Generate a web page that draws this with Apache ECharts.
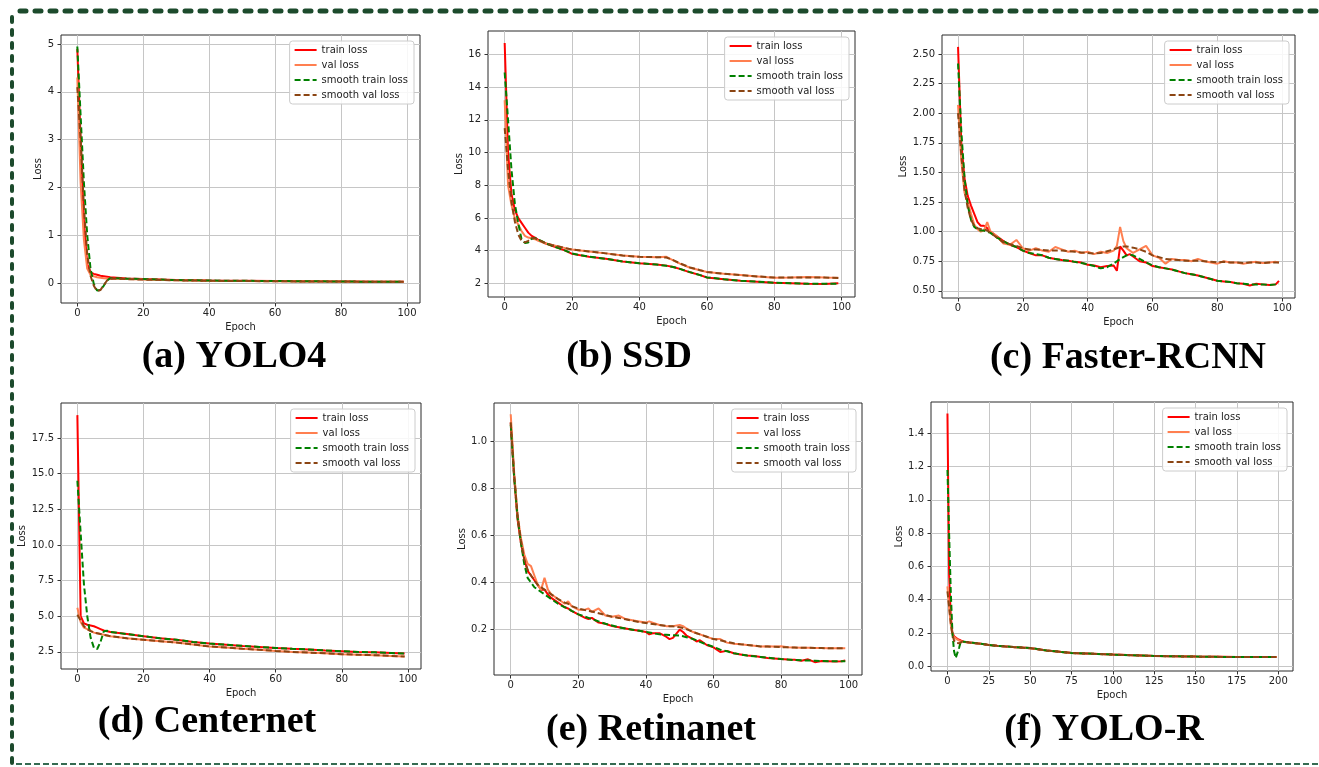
<!DOCTYPE html>
<html>
<head>
<meta charset="utf-8">
<script src="https://cdn.jsdelivr.net/npm/echarts@6/dist/echarts.min.js"></script>
<style>
html, body { margin: 0; padding: 0; background: #fff; }
#main { width: 1319px; height: 767px; }
</style>
</head>
<body>
<div id="main"></div>
<script>
var names = ['train loss', 'val loss', 'smooth train loss', 'smooth val loss'];
var titles = ['(a) YOLO4', '(b) SSD', '(c) Faster-RCNN', '(d) Centernet', '(e) Retinanet', '(f) YOLO-R'];

// tick labels
var xTicks100 = [0, 20, 40, 60, 80, 100];
var xTicks200 = [0, 25, 50, 75, 100, 125, 150, 175, 200];
var aYTicks = [0, 1, 2, 3, 4, 5];
var bYTicks = [2, 4, 6, 8, 10, 12, 14, 16];
var cYTicks = [0.5, 0.75, 1.0, 1.25, 1.5, 1.75, 2.0, 2.25, 2.5];
var dYTicks = [2.5, 5.0, 7.5, 10.0, 12.5, 15.0, 17.5];
var eYTicks = [0.2, 0.4, 0.6, 0.8, 1.0];
var fYTicks = [0, 0.2, 0.4, 0.6, 0.8, 1.0, 1.2, 1.4];

// (a) YOLO4
var aEp = [0, 1, 2, 3, 4, 5, 6, 7, 8, 9, 10, 12, 15, 20, 30, 40, 50, 60, 70, 80, 90, 99];
var aTrain = [4.9, 3.0, 1.3, 0.4, 0.22, 0.19, 0.17, 0.15, 0.14, 0.13, 0.12, 0.11, 0.095, 0.08, 0.06, 0.05, 0.045, 0.04, 0.035, 0.03, 0.025, 0.025];
var aVal = [4.3, 2.1, 0.9, 0.3, 0.17, 0.14, 0.12, 0.11, 0.1, 0.095, 0.09, 0.085, 0.08, 0.07, 0.055, 0.045, 0.04, 0.035, 0.03, 0.03, 0.025, 0.025];
var aSmTrain = [4.95, 3.5, 2.1, 1.0, 0.3, -0.02, -0.16, -0.15, -0.06, 0.05, 0.1, 0.1, 0.09, 0.08, 0.06, 0.05, 0.045, 0.04, 0.035, 0.03, 0.025, 0.025];
var aSmVal = [4.1, 3.0, 1.6, 0.6, 0.15, -0.06, -0.17, -0.15, -0.05, 0.05, 0.09, 0.09, 0.08, 0.07, 0.055, 0.045, 0.04, 0.035, 0.03, 0.03, 0.025, 0.025];

// (b) SSD
var bEp = [0, 1, 2, 3, 4, 5, 6, 7, 8, 9, 10, 12, 14, 16, 18, 20, 25, 30, 35, 40, 45, 48, 50, 52, 55, 58, 60, 65, 70, 75, 80, 85, 90, 95, 99];
var bTrain = [16.7, 10.0, 7.5, 6.5, 6.0, 5.7, 5.4, 5.1, 4.9, 4.8, 4.65, 4.45, 4.3, 4.15, 4.0, 3.8, 3.62, 3.5, 3.33, 3.22, 3.15, 3.08, 3.0, 2.88, 2.67, 2.5, 2.35, 2.25, 2.15, 2.1, 2.03, 2.0, 1.97, 1.96, 2.0];
var bVal = [13.2, 8.0, 6.8, 6.0, 5.6, 5.2, 4.9, 4.8, 4.75, 4.7, 4.6, 4.45, 4.35, 4.25, 4.15, 4.07, 3.95, 3.83, 3.7, 3.62, 3.6, 3.62, 3.4, 3.2, 2.95, 2.8, 2.69, 2.58, 2.5, 2.42, 2.34, 2.35, 2.38, 2.35, 2.34];
var bSmTrain = [14.9, 12.0, 9.0, 6.9, 5.7, 4.7, 4.47, 4.5, 4.72, 4.78, 4.68, 4.47, 4.3, 4.15, 4.0, 3.82, 3.63, 3.5, 3.33, 3.22, 3.15, 3.07, 3.0, 2.88, 2.68, 2.5, 2.36, 2.25, 2.15, 2.1, 2.03, 2.0, 1.97, 1.97, 1.98];
var bSmVal = [11.5, 9.0, 7.0, 5.8, 5.0, 4.6, 4.5, 4.6, 4.75, 4.75, 4.65, 4.47, 4.35, 4.25, 4.15, 4.07, 3.95, 3.83, 3.7, 3.62, 3.6, 3.58, 3.42, 3.22, 2.97, 2.8, 2.69, 2.58, 2.5, 2.42, 2.35, 2.35, 2.36, 2.35, 2.33];

// (c) Faster-RCNN
var cEp = [0, 1, 2, 3, 4, 5, 6, 7, 8, 9, 10, 12, 14, 16, 18, 20, 22, 24, 26, 28, 30, 32, 34, 36, 38, 40, 42, 44, 46, 48, 49, 50, 51, 52, 53, 54, 56, 58, 60, 62, 64, 66, 68, 70, 72, 74, 76, 78, 80, 82, 84, 86, 88, 90, 92, 94, 96, 98, 99];
var cTrain = [2.56, 1.75, 1.45, 1.3, 1.22, 1.15, 1.08, 1.05, 1.05, 1.03, 1.0,
  0.96, 0.92, 0.89, 0.87, 0.84, 0.82, 0.8, 0.8, 0.78, 0.77, 0.76, 0.755, 0.745, 0.74, 0.72, 0.715, 0.7, 0.71, 0.715,
  0.67, 0.875, 0.84, 0.8, 0.81, 0.79,
  0.75, 0.74, 0.71, 0.7, 0.69, 0.68, 0.665, 0.65, 0.64, 0.63, 0.615, 0.6, 0.585, 0.58, 0.575, 0.565, 0.56, 0.545, 0.56, 0.555, 0.55, 0.555,
  0.585];
var cVal = [2.07, 1.6, 1.33, 1.25, 1.15, 1.06, 1.02, 1.0, 1.01, 1.08, 1.0,
  0.96, 0.9, 0.89, 0.93, 0.86, 0.84, 0.86, 0.84, 0.83, 0.87, 0.85, 0.83, 0.84, 0.82, 0.83, 0.81, 0.83, 0.82, 0.84,
  0.88, 1.04, 0.92, 0.86, 0.84, 0.82,
  0.85, 0.88, 0.8, 0.78, 0.73, 0.77, 0.76, 0.76, 0.75, 0.77, 0.75, 0.74, 0.73, 0.75, 0.74, 0.74, 0.73, 0.74, 0.745, 0.735, 0.74, 0.745,
  0.74];
var cSmTrain = [2.42, 1.85, 1.45, 1.22, 1.1, 1.04, 1.02, 1.01, 1.01, 1.0, 0.99,
  0.95, 0.92, 0.89, 0.87, 0.84, 0.82, 0.81, 0.8, 0.78, 0.77, 0.76, 0.755, 0.745, 0.735, 0.725, 0.71, 0.69, 0.7, 0.73,
  0.75, 0.77, 0.785, 0.8, 0.805, 0.8,
  0.77, 0.74, 0.715, 0.7, 0.69, 0.68, 0.665, 0.65, 0.64, 0.63, 0.615, 0.6, 0.585, 0.58, 0.575, 0.565, 0.56, 0.555, 0.555, 0.555, 0.55, 0.555,
  0.56];
var cSmVal = [2.0, 1.65, 1.35, 1.2, 1.1, 1.05, 1.03, 1.02, 1.02, 1.01, 0.99,
  0.95, 0.91, 0.895, 0.88, 0.86, 0.85, 0.85, 0.845, 0.84, 0.84, 0.84, 0.835, 0.83, 0.825, 0.82, 0.815, 0.82, 0.835, 0.85,
  0.86, 0.87, 0.875, 0.875, 0.87, 0.865,
  0.85, 0.83, 0.8, 0.785, 0.77, 0.765, 0.76, 0.755, 0.755, 0.755, 0.75, 0.745, 0.74, 0.745, 0.74, 0.74, 0.735, 0.74, 0.74, 0.735, 0.74, 0.74,
  0.74];

// (d) Centernet
var dEp = [0, 1, 2, 3, 4, 5, 6, 7, 8, 9, 10, 15, 20, 25, 30, 35, 40, 45, 50, 55, 60, 65, 70, 75, 80, 85, 90, 95, 99];
var dTrain = [19.1, 5.0, 4.5, 4.4, 4.35, 4.3, 4.2, 4.1, 4.0, 3.95, 3.9, 3.75, 3.6, 3.45, 3.35, 3.2, 3.08, 3.0, 2.92, 2.85, 2.78, 2.72, 2.67, 2.6, 2.55, 2.5, 2.47, 2.42, 2.38];
var dVal = [5.6, 4.6, 4.2, 4.1, 4.0, 3.85, 3.8, 3.75, 3.7, 3.65, 3.6, 3.45, 3.35, 3.25, 3.15, 3.02, 2.88, 2.8, 2.72, 2.65, 2.57, 2.5, 2.45, 2.4, 2.34, 2.3, 2.27, 2.22, 2.18];
var dSmTrain = [14.5, 10.8, 7.2, 5.0, 3.5, 2.8, 2.7, 3.2, 3.95, 3.98, 3.9, 3.75, 3.6, 3.45, 3.35, 3.2, 3.08, 3.0, 2.92, 2.85, 2.78, 2.72, 2.67, 2.6, 2.55, 2.5, 2.47, 2.42, 2.38];
var dSmVal = [5.1, 4.7, 4.3, 4.1, 3.95, 3.85, 3.8, 3.75, 3.7, 3.65, 3.6, 3.45, 3.35, 3.25, 3.15, 3.02, 2.88, 2.8, 2.72, 2.65, 2.57, 2.5, 2.45, 2.4, 2.34, 2.3, 2.27, 2.22, 2.17];

// (e) Retinanet
var eEp = [0, 1, 2, 3, 4, 5, 6, 7, 8, 9, 10, 11, 12, 14, 16, 17, 18, 20, 22, 23, 24, 26, 28, 30, 32, 34, 36, 38, 40, 41, 42, 44, 46, 47, 48, 50, 51, 52, 54, 55, 56, 58, 60, 62, 64, 66, 68, 70, 72, 74, 76, 78, 80, 82, 84, 86, 88, 90, 92, 94, 96, 98, 99];
var eTrain = [1.08, 0.85, 0.67, 0.57, 0.5, 0.45, 0.43, 0.41, 0.39, 0.37, 0.37, 0.35, 0.335,
  0.315, 0.295, 0.29, 0.28, 0.265, 0.25, 0.245, 0.25, 0.23, 0.225, 0.215,
  0.21, 0.205, 0.2, 0.195, 0.19, 0.18, 0.185, 0.185, 0.17, 0.16, 0.165,
  0.2, 0.19, 0.175, 0.16, 0.15, 0.155, 0.135, 0.125,
  0.105, 0.11, 0.1, 0.095, 0.09, 0.088, 0.084, 0.08, 0.078, 0.075, 0.073, 0.072, 0.068, 0.074, 0.062, 0.067, 0.066, 0.065, 0.066,
  0.069];
var eVal = [1.115, 0.87, 0.69, 0.59, 0.52, 0.48, 0.47, 0.43, 0.39, 0.37, 0.42, 0.37, 0.35,
  0.33, 0.31, 0.32, 0.3, 0.285, 0.285, 0.29, 0.275, 0.29, 0.26, 0.255,
  0.26, 0.245, 0.24, 0.235, 0.23, 0.235, 0.23, 0.22, 0.215, 0.215, 0.215,
  0.22, 0.215, 0.205, 0.19, 0.185, 0.18, 0.17, 0.16,
  0.16, 0.145, 0.14, 0.138, 0.135, 0.132, 0.128, 0.13, 0.128, 0.13, 0.125, 0.124, 0.123, 0.123, 0.122, 0.122, 0.121, 0.121, 0.121,
  0.121];
var eSmTrain = [1.07, 0.85, 0.68, 0.57, 0.48, 0.42, 0.4, 0.38, 0.37, 0.36, 0.35, 0.34, 0.33,
  0.31, 0.295, 0.29, 0.28, 0.265, 0.255, 0.25, 0.245, 0.235, 0.225, 0.218,
  0.21, 0.205, 0.2, 0.195, 0.19, 0.188, 0.185, 0.18, 0.178, 0.177, 0.176,
  0.175, 0.172, 0.168, 0.16, 0.155, 0.148, 0.137, 0.127,
  0.115, 0.108, 0.1, 0.095, 0.09, 0.087, 0.084, 0.081, 0.078, 0.075, 0.073, 0.071, 0.07, 0.069, 0.068, 0.067, 0.066, 0.066, 0.066,
  0.066];
var eSmVal = [1.08, 0.86, 0.69, 0.58, 0.5, 0.455, 0.43, 0.41, 0.39, 0.38, 0.37, 0.36, 0.35,
  0.33, 0.315, 0.31, 0.3, 0.29, 0.283, 0.28, 0.277, 0.27, 0.262, 0.255,
  0.25, 0.244, 0.238, 0.232, 0.228, 0.226, 0.224, 0.22, 0.216, 0.215, 0.214,
  0.21, 0.207, 0.202, 0.19, 0.185, 0.18, 0.17, 0.16,
  0.155, 0.148, 0.142, 0.138, 0.135, 0.132, 0.129, 0.128, 0.127, 0.126, 0.125, 0.124, 0.123, 0.123, 0.122, 0.122, 0.121, 0.121, 0.121,
  0.121];

// (f) YOLO-R
var fEp = [0, 1, 2, 3, 4, 5, 6, 7, 8, 9, 10, 15, 20, 25, 30, 40, 50, 60, 75, 100, 125, 150, 175, 199];
var fTrain = [1.52, 0.55, 0.3, 0.2, 0.18, 0.17, 0.165, 0.16, 0.155, 0.15, 0.148, 0.142, 0.136, 0.128, 0.123, 0.116, 0.11, 0.095, 0.08, 0.07, 0.062, 0.058, 0.055, 0.055];
var fVal = [0.48, 0.35, 0.25, 0.19, 0.175, 0.165, 0.16, 0.155, 0.15, 0.148, 0.146, 0.14, 0.135, 0.128, 0.123, 0.115, 0.108, 0.095, 0.08, 0.07, 0.062, 0.058, 0.055, 0.055];
var fSmTrain = [1.18, 0.8, 0.45, 0.2, 0.09, 0.05, 0.06, 0.11, 0.145, 0.15, 0.148, 0.142, 0.136, 0.128, 0.123, 0.116, 0.11, 0.095, 0.08, 0.07, 0.062, 0.058, 0.055, 0.055];
var fSmVal = [0.45, 0.36, 0.26, 0.19, 0.155, 0.14, 0.135, 0.138, 0.145, 0.148, 0.146, 0.14, 0.135, 0.128, 0.123, 0.115, 0.108, 0.095, 0.08, 0.07, 0.062, 0.058, 0.055, 0.055];

var colors = ['#ff0000', '#ff7f50', '#008000', '#8b4513'];
var dashes = ['solid', 'solid', [6, 3], [6, 3]];

// panel boxes and axis ranges (matplotlib auto limits)
var panels = [
  {left: 61, top: 35, width: 359, height: 268, xr: [-4.95, 103.95], yr: [-0.42, 5.19], xt: xTicks100, yt: aYTicks, dec: 0, gap: 17,
   ep: aEp, ys: [aTrain, aVal, aSmTrain, aSmVal], tx: 234, ty: 357},
  {left: 488, top: 31, width: 367, height: 266, xr: [-4.95, 103.95], yr: [1.16, 17.44], xt: xTicks100, yt: bYTicks, dec: 0, gap: 23,
   ep: bEp, ys: [bTrain, bVal, bSmTrain, bSmVal], tx: 629, ty: 357},
  {left: 942, top: 35, width: 353, height: 263, xr: [-4.95, 103.95], yr: [0.44, 2.66], xt: xTicks100, yt: cYTicks, dec: 2, gap: 32,
   ep: cEp, ys: [cTrain, cVal, cSmTrain, cSmVal], tx: 1128, ty: 358},
  {left: 61, top: 403, width: 360, height: 266, xr: [-4.95, 103.95], yr: [1.3, 19.95], xt: xTicks100, yt: dYTicks, dec: 1, gap: 33,
   ep: dEp, ys: [dTrain, dVal, dSmTrain, dSmVal], tx: 207, ty: 722},
  {left: 494, top: 403, width: 368, height: 272, xr: [-4.95, 103.95], yr: [0.0075, 1.1625], xt: xTicks100, yt: eYTicks, dec: 1, gap: 27,
   ep: eEp, ys: [eTrain, eVal, eSmTrain, eSmVal], tx: 651, ty: 730},
  {left: 931, top: 402, width: 362, height: 269, xr: [-9.95, 208.95], yr: [-0.0285, 1.5885], xt: xTicks200, yt: fYTicks, dec: 1, gap: 27,
   ep: fEp, ys: [fTrain, fVal, fSmTrain, fSmVal], tx: 1104, ty: 730}
];

var tickFont = {fontFamily: 'DejaVu Sans', fontSize: 10, color: '#222'};

var grids = [], xAxes = [], yAxes = [], legends = [], series = [], graphics = [];

panels.forEach(function (p, i) {
  grids.push({left: p.left, top: p.top, width: p.width, height: p.height, show: true,
    borderColor: '#2a2a2a', borderWidth: 1, backgroundColor: 'transparent'});
  xAxes.push({
    type: 'value', gridIndex: i, min: p.xr[0], max: p.xr[1],
    name: 'Epoch', nameLocation: 'middle', nameGap: 19,
    nameTextStyle: {fontFamily: 'DejaVu Sans', fontSize: 10, color: '#222'},
    axisLine: {show: false, onZero: false},
    axisTick: {show: true, length: 3.5, inside: false, customValues: p.xt, lineStyle: {color: '#333'}},
    axisLabel: Object.assign({margin: 5, customValues: p.xt}, tickFont),
    splitLine: {show: true, lineStyle: {color: '#c6c6c6', width: 1}}
  });
  yAxes.push({
    type: 'value', gridIndex: i, min: p.yr[0], max: p.yr[1],
    name: 'Loss', nameLocation: 'middle', nameGap: p.gap,
    nameTextStyle: {fontFamily: 'DejaVu Sans', fontSize: 10, color: '#222'},
    axisLine: {show: false, onZero: false},
    axisTick: {show: true, length: 3.5, inside: false, customValues: p.yt, lineStyle: {color: '#333'}},
    axisLabel: Object.assign({margin: 7, customValues: p.yt,
      formatter: (function (d) { return function (v) { return Number(v).toFixed(d); }; })(p.dec)}, tickFont),
    splitLine: {show: true, lineStyle: {color: '#c6c6c6', width: 1}}
  });
  legends.push({
    orient: 'vertical', right: 1319 - (p.left + p.width) + 6, top: p.top + 6,
    data: names, itemWidth: 22, itemHeight: 10, itemGap: 5, selectedMode: false,
    padding: [4, 6, 4, 4], backgroundColor: 'rgba(255,255,255,0.85)',
    borderColor: '#cccccc', borderWidth: 1, borderRadius: 3,
    itemStyle: {color: 'rgba(0,0,0,0)', borderWidth: 0},
    textStyle: {fontFamily: 'DejaVu Sans', fontSize: 10, color: '#222'}
  });
  p.ys.forEach(function (vals, k) {
    series.push({
      name: names[k], type: 'line', xAxisIndex: i, yAxisIndex: i,
      symbol: 'none', showSymbol: false, animation: false,
      data: p.ep.map(function (e, j) { return [e, vals[j]]; }),
      lineStyle: {color: colors[k], width: 2, type: dashes[k]},
      itemStyle: {color: colors[k]}
    });
  });
  graphics.push({
    type: 'text', x: p.tx, y: p.ty,
    style: {text: titles[i], fontFamily: 'Liberation Serif', fontWeight: 'bold', fontSize: 38,
      fill: '#000', align: 'center', verticalAlign: 'middle'}
  });
});

// dashed green frame
graphics.push({type: 'line', shape: {x1: 20, y1: 11, x2: 1319, y2: 11},
  style: {stroke: '#1c4a2c', lineWidth: 5, lineDash: [6, 9], lineCap: 'round'}});
graphics.push({type: 'line', shape: {x1: 12, y1: 17, x2: 12, y2: 767},
  style: {stroke: '#1c4a2c', lineWidth: 4, lineDash: [5, 8], lineCap: 'round'}});
graphics.push({type: 'line', shape: {x1: 16, y1: 764, x2: 1319, y2: 764},
  style: {stroke: '#356b52', lineWidth: 2, lineDash: [6, 3]}});

var chart = echarts.init(document.getElementById('main'));
chart.setOption({
  animation: false,
  backgroundColor: '#fff',
  grid: grids,
  xAxis: xAxes,
  yAxis: yAxes,
  legend: legends,
  series: series,
  graphic: graphics
});
</script>
</body>
</html>
